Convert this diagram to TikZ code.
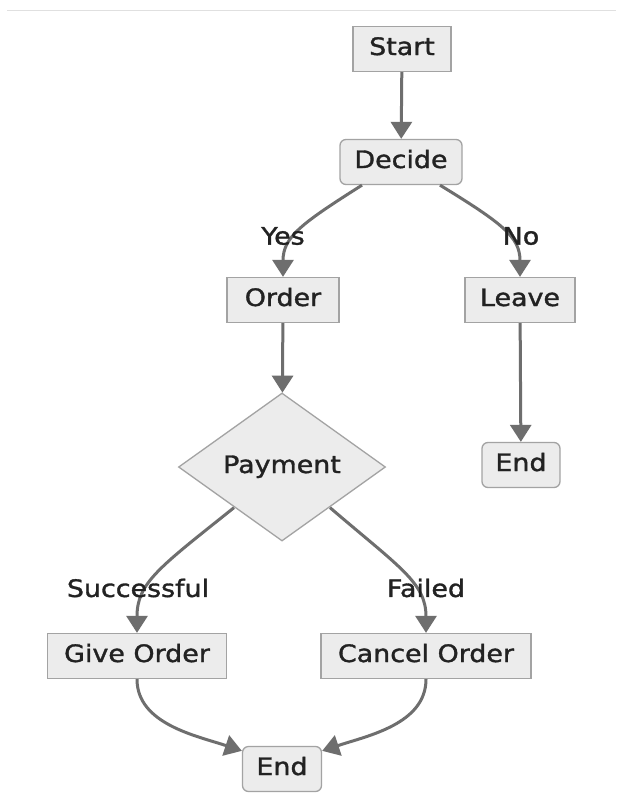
\documentclass[tikz,border=0pt]{standalone}
\usepackage{fontspec}
\setmainfont{DejaVu Sans}[FakeStretch=1.12,FakeBold=1.4]
\usetikzlibrary{shapes.geometric,arrows.meta}
\definecolor{boxfill}{HTML}{ECECEC}
\definecolor{boxline}{HTML}{A3A3A3}
\definecolor{edgecol}{HTML}{6E6E6E}
\definecolor{txt}{HTML}{222222}
\tikzset{
  base/.style={fill=boxfill, draw=boxline, line width=1.3pt, text=txt,
    font=\fontsize{24}{28}\selectfont, inner sep=0pt, text height=17pt, text depth=5pt},
  sqbox/.style={base, rectangle, minimum height=45pt},
  rdbox/.style={base, rectangle, rounded corners=6pt, minimum height=45pt},
  decision/.style={base, diamond, aspect=1.4, minimum width=207pt, minimum height=148pt},
  edge/.style={draw=edgecol, line width=3pt, -{Triangle[length=17pt,width=21pt]}},
  elabel/.style={text=txt, font=\fontsize{24}{28}\selectfont, inner sep=0pt}
}
\begin{document}
\begin{tikzpicture}[x=1pt,y=-1pt]
\useasboundingbox (0,0) rectangle (616,806);
\fill[white] (0,0) rectangle (616,806);
\draw[draw=black!12, line width=1pt] (7,10) -- (616,10);

\node[sqbox, minimum width=98pt] (start) at (402,49) {Start};
\node[rdbox, minimum width=122pt] (decide) at (401,162) {Decide};
\node[sqbox, minimum width=112pt] (order) at (283,300) {Order};
\node[sqbox, minimum width=110pt] (leave) at (520,300) {Leave};
\node[decision] (pay) at (282,467) {Payment};
\node[rdbox, minimum width=78pt] (end1) at (521,465) {End};
\node[sqbox, minimum width=179pt] (give) at (137,656) {Give Order};
\node[sqbox, minimum width=210pt] (cancel) at (426,656) {Cancel Order};
\node[rdbox, minimum width=79pt] (end2) at (282,769) {End};

\draw[edge] (start) -- (decide);
\draw[edge] ([xshift=-39pt]decide.south) .. controls +(-60,38) and +(0,-40) .. (order.north);
\draw[edge] ([xshift=39pt]decide.south) .. controls +(62,38) and +(0,-40) .. (leave.north);
\draw[edge] (order) -- (pay);
\draw[edge] (leave) -- (end1);
\draw[edge] ([xshift=-48pt,yshift=34pt]pay.south) .. controls +(-75,60) and +(0,-50) .. (give.north);
\draw[edge] ([xshift=48pt,yshift=34pt]pay.south) .. controls +(70,60) and +(0,-50) .. (cancel.north);
\draw[edge] (give.south) .. controls +(0,45) and +(-45,-15) .. ([yshift=-5pt]end2.north west);
\draw[edge] (cancel.south) .. controls +(0,45) and +(45,-15) .. ([yshift=-5pt]end2.north east);

\node[elabel] (lyes) at (283,236) {Yes};
\node[elabel] (lno) at (521,236) {No};
\node[elabel] (lsucc) at (138,588) {Successful};
\node[elabel] (lfail) at (426,588) {Failed};
\end{tikzpicture}
\end{document}
